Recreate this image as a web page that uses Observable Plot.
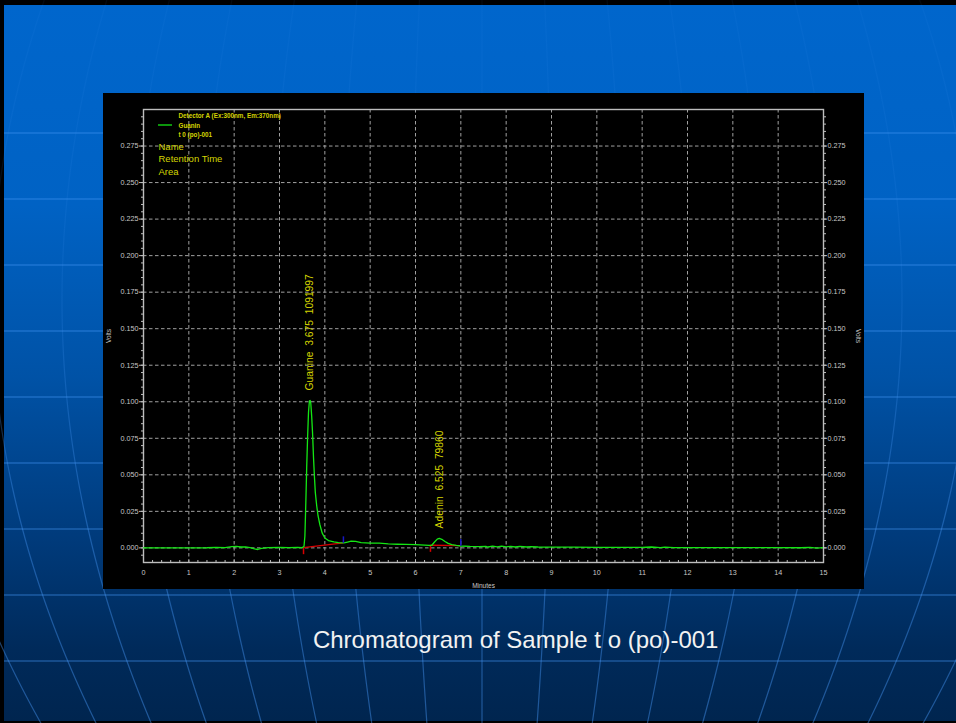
<!DOCTYPE html>
<html><head><meta charset="utf-8">
<script src="https://cdn.jsdelivr.net/npm/d3@7"></script>
<script src="https://cdn.jsdelivr.net/npm/@observablehq/plot@0.6"></script>
<style>
html,body{margin:0;padding:0;}
body{width:956px;height:723px;overflow:hidden;position:relative;background:#000;}
#slide{position:absolute;left:4px;top:5px;width:952px;height:716px;
  background:linear-gradient(to bottom,#0066cc 0%,#0062c4 28%,#0052a6 52%,#003a7a 75%,#002a5a 90%,#00254f 100%);}
#deco{position:absolute;left:0;top:0;}
#panel{position:absolute;left:103px;top:93px;width:761px;height:496px;background:#000;}
#caption{position:absolute;left:215.7px;width:600px;top:627.7px;text-align:center;
  font-family:"Liberation Sans",Arial,sans-serif;font-size:24px;line-height:24px;color:#f2f2f2;white-space:pre;}
svg text{white-space:pre;}
</style>
</head><body>
<div id="slide"></div>
<svg id="deco" width="956" height="723">
  <defs>
    <linearGradient id="fade" gradientUnits="userSpaceOnUse" x1="0" y1="0" x2="0" y2="723">
      <stop offset="0" stop-color="rgb(70,150,245)" stop-opacity="0.06"/>
      <stop offset="0.4" stop-color="rgb(70,150,245)" stop-opacity="0.12"/>
      <stop offset="0.7" stop-color="rgb(70,150,245)" stop-opacity="0.38"/>
      <stop offset="1" stop-color="rgb(70,150,245)" stop-opacity="0.45"/>
    </linearGradient>
  </defs>
</svg>
<div id="panel"></div>
<div id="caption">Chromatogram of Sample t o (po)-001</div>
<script>
// ---- data ----
const time  = [0,0.5,1.0,1.4,1.6,1.8,1.95,2.05,2.15,2.25,2.35,2.45,2.52,2.6,2.75,3.0,3.2,3.4,3.5,
  3.54,3.56,3.58,3.6,3.62,3.64,3.66,3.675,3.69,3.71,3.73,3.75,3.77,3.79,3.82,3.85,3.89,3.94,4.0,4.08,
  4.2,4.3,4.42,4.5,4.58,4.68,4.8,5.0,5.2,5.4,5.6,5.8,6.0,6.2,6.3,6.36,6.42,6.48,6.525,6.58,6.65,6.72,
  6.8,6.9,7.0,7.2,7.4,7.55,7.6,7.7,7.8,7.9,8.0,8.1,8.2,8.3,8.45,8.55,8.7,9.0,9.5,10.0,10.5,11.0,11.2,
  11.4,11.5,11.7,12.0,12.5,13.0,13.5,14.0,14.5,14.7,14.85,15.0];
const volts = [0,0,0,0.0001,0.0003,0.0002,0.0008,0.0010,0.0006,0.0007,0.0002,-0.0006,-0.0011,-0.0004,0.0002,0.0003,0.0002,0.0003,0.0002,
  0.0010,0.0080,0.030,0.055,0.076,0.093,0.1005,0.1009,0.0990,0.090,0.078,0.062,0.049,0.038,0.029,0.022,0.016,0.0103,0.0068,0.0050,
  0.0041,0.0036,0.0034,0.0040,0.0046,0.0044,0.0036,0.0033,0.0032,0.0027,0.0025,0.0024,0.0022,0.0019,0.0017,0.0018,0.0040,0.0060,0.0065,0.0059,0.0044,0.0031,
  0.0022,0.0017,0.0013,0.0010,0.0009,0.0011,0.0006,0.0012,0.0007,0.0012,0.0007,0.0011,0.0006,0.0010,0.0006,0.0009,0.0006,0.0005,0.0005,0.0004,0.0004,0.0004,0.0006,
  0.0002,0.0005,0.0002,0.0002,0.0002,0.0002,0.0002,0.0002,0.0001,0.0003,-0.0001,0.0002];

const peakNames   = ["Guanine", "Adenin"];
const peakTimes   = [3.675, 6.525];
const peakAreas   = [1091997, 79860];
const peakHeights = [0.1009, 0.0065];

const baseStartT = [3.53, 6.33];
const baseStartV = [0.0002, 0.0018];
const baseEndT   = [4.41, 7.0];
const baseEndV   = [0.0034, 0.0015];

const xTicks = [0,1,2,3,4,5,6,7,8,9,10,11,12,13,14,15];
const yTicks = [0,0.025,0.05,0.075,0.1,0.125,0.15,0.175,0.2,0.225,0.25,0.275];
const xMinor = d3.range(0, 15.001, 0.2);
const yMinor = d3.range(-0.005, 0.2951, 0.005);

const legendTitle = "Detector A (Ex:300nm, Em:370nm)";
const legendSeries = "Guanin";
const legendSample = "t 0 (po)-001";
const labelFields = ["Name", "Retention Time", "Area"];

// ---- build tables ----
const trace = time.map((t, i) => ({t, v: volts[i]}));
const peaks = peakNames.map((n, i) => ({name: n, rt: peakTimes[i], area: peakAreas[i], h: peakHeights[i]}));
const bases = baseStartT.map((t, i) => ({t0: t, v0: baseStartV[i], t1: baseEndT[i], v1: baseEndV[i]}));

const yellow = "#d4d400";
const font = "'Liberation Sans', Arial, sans-serif";

const chart = Plot.plot({
  width: 761, height: 496,
  marginLeft: 40, marginRight: 41, marginTop: 16, marginBottom: 27,
  style: {background: "transparent", color: "#c8c8c8", fontFamily: font, fontSize: "7.2px"},
  x: {domain: [0, 15]},
  y: {domain: [-0.01, 0.30]},
  marks: [
    Plot.gridX(xTicks, {stroke: "#a0a0a0", strokeOpacity: 1, strokeDasharray: "3.5,2.5"}),
    Plot.gridY(yTicks, {stroke: "#a0a0a0", strokeOpacity: 1, strokeDasharray: "3.5,2.5"}),
    Plot.frame({stroke: "#bdbdbd", strokeWidth: 1.4}),
    Plot.axisY(yTicks, {anchor: "left", tickSize: 4, tickPadding: 1, tickFormat: d => d.toFixed(3), label: null, stroke: "#bdbdbd"}),
    Plot.axisY(yMinor, {anchor: "left", tickSize: 2, tickFormat: () => "", label: null, stroke: "#bdbdbd"}),
    Plot.axisY(yTicks, {anchor: "right", tickSize: 3, tickPadding: 1, tickFormat: d => d.toFixed(3), label: null, stroke: "#bdbdbd"}),
    Plot.axisY(yMinor, {anchor: "right", tickSize: 2, tickFormat: () => "", label: null, stroke: "#bdbdbd"}),
    Plot.axisX(xTicks, {anchor: "bottom", tickSize: 0, tickPadding: 7, label: null}),
    Plot.axisX(xMinor, {anchor: "bottom", tickSize: 2, dy: -2, tickFormat: () => "", label: null, stroke: "#bdbdbd"}),
    Plot.text(["Minutes"], {frameAnchor: "bottom", dy: 23, lineAnchor: "middle", fontSize: 6.5, fill: "#c8c8c8"}),
    Plot.text(["Volts"], {frameAnchor: "left", dx: -35, rotate: -90, lineAnchor: "middle", textAnchor: "middle", fontSize: 6.5, fill: "#c8c8c8"}),
    Plot.text(["Volts"], {frameAnchor: "right", dx: 35, rotate: 90, lineAnchor: "middle", textAnchor: "middle", fontSize: 6.5, fill: "#c8c8c8"}),
    // integration baselines
    Plot.link(bases, {x1: "t0", y1: "v0", x2: "t1", y2: "v1", stroke: "#d80000", strokeWidth: 1.3}),
    Plot.link(bases, {x1: "t0", x2: "t0", y1: "v0", y2: d => d.v0 - 0.0045, stroke: "#d80000", strokeWidth: 1.5}),
    // trace
    Plot.line(trace, {x: "t", y: "v", stroke: "#14e614", strokeWidth: 1.3, clip: true}),
    Plot.link(bases, {x1: "t1", x2: "t1", y1: "v1", y2: d => d.v1 + 0.0045, stroke: "#1818c8", strokeWidth: 1.5}),
    // peak labels
    Plot.text(peaks, {x: "rt", y: "h", text: d => `${d.name}  ${d.rt.toFixed(3)}  ${d.area}`, rotate: -90,
      textAnchor: "start", lineAnchor: "middle", dy: -10, fill: yellow, fontSize: 10.3}),
    // legend
    Plot.text([legendTitle], {frameAnchor: "top-left", dx: 35, dy: 6, lineAnchor: "middle", fill: yellow, fontWeight: "bold", fontSize: 6.3}),
    Plot.text([legendSeries], {frameAnchor: "top-left", dx: 35, dy: 16, lineAnchor: "middle", fill: yellow, fontWeight: "bold", fontSize: 6.3}),
    Plot.text([legendSample], {frameAnchor: "top-left", dx: 35, dy: 25.5, lineAnchor: "middle", fill: yellow, fontWeight: "bold", fontSize: 6.3}),
    Plot.text([labelFields[0]], {frameAnchor: "top-left", dx: 15, dy: 37, lineAnchor: "middle", fill: yellow, fontSize: 9.5}),
    Plot.text([labelFields[1]], {frameAnchor: "top-left", dx: 15, dy: 49.6, lineAnchor: "middle", fill: yellow, fontSize: 9.5}),
    Plot.text([labelFields[2]], {frameAnchor: "top-left", dx: 15, dy: 62.2, lineAnchor: "middle", fill: yellow, fontSize: 9.5}),
    (index, scales, values, dims) => {
      const g = d3.create("svg:g");
      g.append("line").attr("x1", dims.marginLeft + 15).attr("x2", dims.marginLeft + 29)
        .attr("y1", dims.marginTop + 16).attr("y2", dims.marginTop + 16)
        .attr("stroke", "#14e614").attr("stroke-width", 1.3);
      return g.node();
    }
  ]
});
document.getElementById("panel").appendChild(chart);

// ---- decorative slide background grid ----
const deco = d3.select("#deco");
const hl = d3.range(133, 723, 66);
deco.selectAll("line.h").data(hl).join("line").attr("class", "h")
  .attr("x1", 4).attr("x2", 956).attr("y1", d => d).attr("y2", d => d)
  .attr("stroke", "rgba(70,150,245,0.42)").attr("stroke-width", 1.6);
const sp = y => 70 - 8.3e-5 * (y - 300) * (y - 300);
const ys = d3.range(0, 731, 8);
deco.selectAll("path.m").data(d3.range(-9, 10)).join("path").attr("class", "m")
  .attr("d", i => d3.line()(ys.map(y => [482 + i * sp(y), y])))
  .attr("fill", "none").attr("stroke", "url(#fade)").attr("stroke-width", 1.2);
</script>
</body></html>
